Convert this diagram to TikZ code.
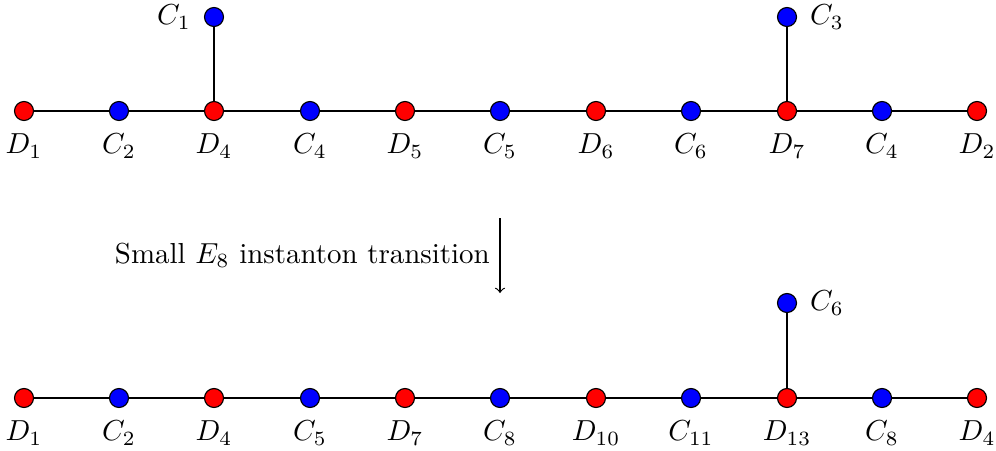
\documentclass[tikz,border=0pt]{standalone}
\begin{document}
\begin{tikzpicture}[x=0.01214cm,y=-0.01214cm,
  vtx/.style={circle,draw=black,line width=0.4pt,inner sep=0pt,minimum size=0.2307cm},
  rvtx/.style={vtx,fill=red},
  bvtx/.style={vtx,fill=blue},
  edge/.style={draw=black,line width=0.4pt},
  label distance=1pt]
\useasboundingbox (0,0) rectangle (996,450);
% top row
\foreach \i/\x/\t/\l in {1/24/rvtx/D_1,2/119/bvtx/C_2,3/214/rvtx/D_4,4/310/bvtx/C_4,5/405/rvtx/D_5,6/500/bvtx/C_5,7/596/rvtx/D_6,8/691/bvtx/C_6,9/787/rvtx/D_7,10/882/bvtx/C_4,11/977/rvtx/D_2}{
  \node[\t,label=below:{$\l$}] (t\i) at (\x,111) {};
}
\node[bvtx,label=left:{$C_1$}] (tc1) at (214,17) {};
\node[bvtx,label=right:{$C_3$}] (tc3) at (787,17) {};
% bottom row
\foreach \i/\x/\t/\l in {1/24/rvtx/D_1,2/119/bvtx/C_2,3/214/rvtx/D_4,4/310/bvtx/C_5,5/405/rvtx/D_7,6/500/bvtx/C_8,7/596/rvtx/D_{10},8/691/bvtx/C_{11},9/787/rvtx/D_{13},10/882/bvtx/C_8,11/977/rvtx/D_4}{
  \node[\t,label=below:{$\l$}] (b\i) at (\x,398) {};
}
\node[bvtx,label=right:{$C_6$}] (bc6) at (787,303) {};
\foreach \i [evaluate=\i as \j using int(\i+1)] in {1,...,10}{
  \path[edge] (t\i) -- (t\j);
  \path[edge] (b\i) -- (b\j);
}
\path[edge] (t3) -- (tc1);
\path[edge] (t9) -- (tc3);
\path[edge] (b9) -- (bc6);
% arrow
\coordinate (a1) at (500,218);
\coordinate (a2) at (500,293);
\draw[->] (a1) -- node[left] {Small $E_8$ instanton transition} (a2);
\end{tikzpicture}
\end{document}
